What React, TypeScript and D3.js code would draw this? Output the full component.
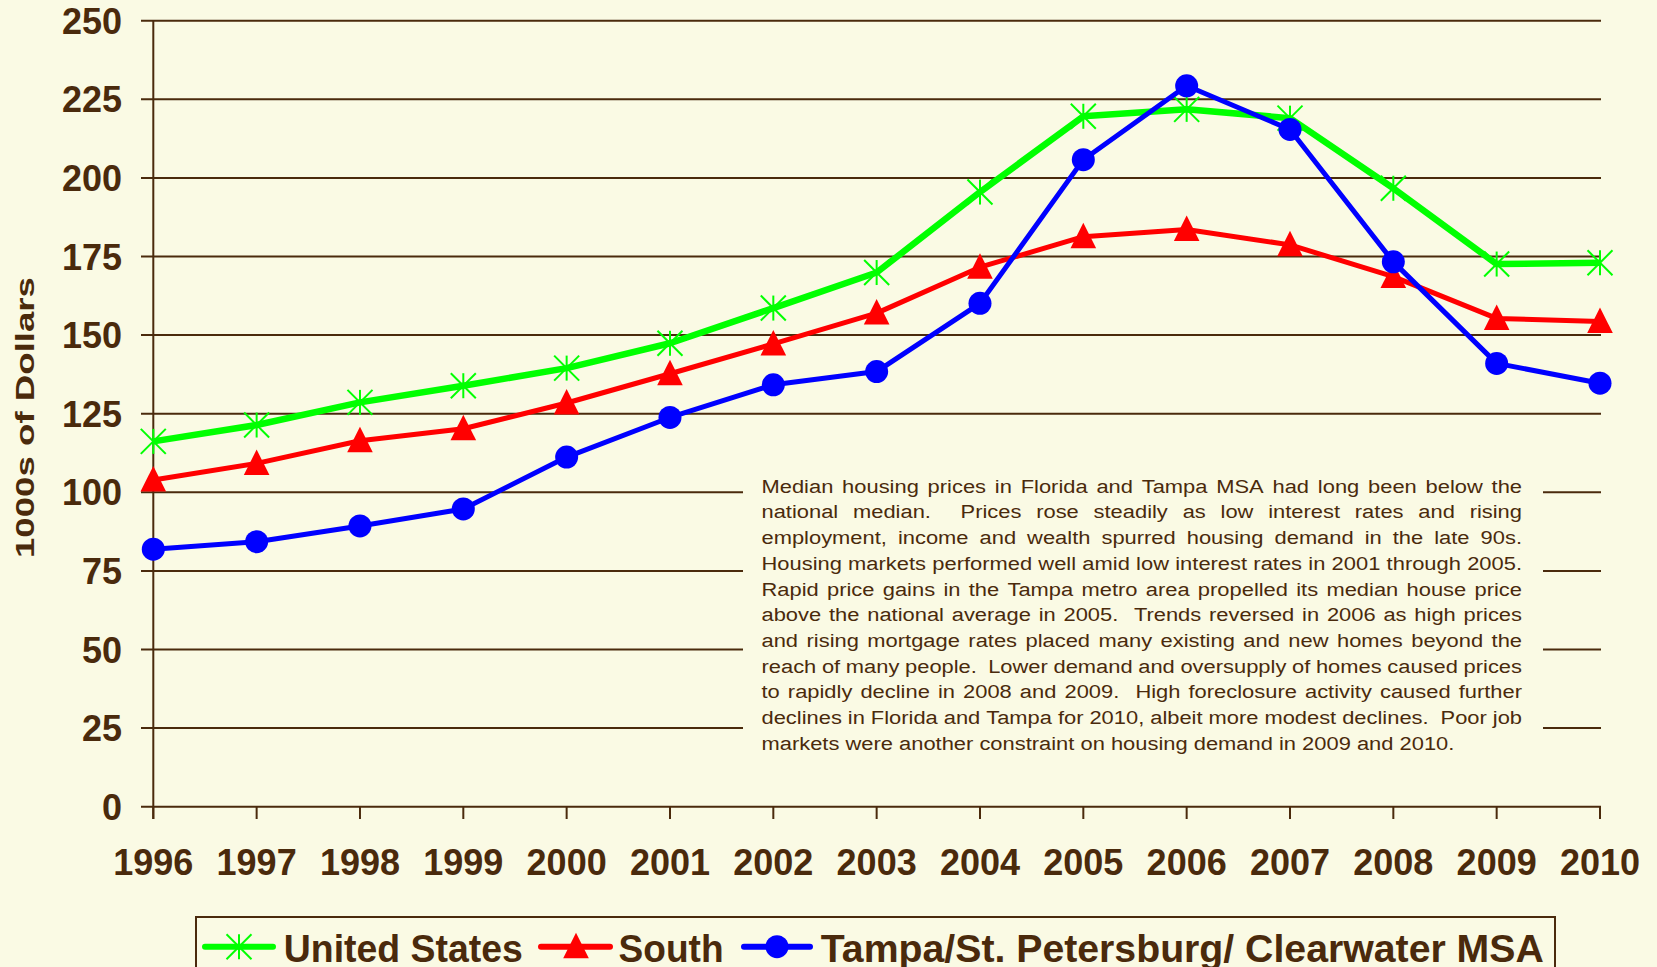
import React from "react";
import * as d3 from "d3";

const years = ["1996","1997","1998","1999","2000","2001","2002","2003","2004","2005","2006","2007","2008","2009","2010"];
const usValues = [116.2, 121.4, 128.6, 133.9, 139.5, 147.4, 158.6, 169.9, 195.5, 219.6, 221.8, 219.0, 196.7, 172.6, 173.0];
const southValues = [103.9, 109.2, 116.4, 120.2, 128.4, 137.7, 147.2, 157.0, 171.6, 181.3, 183.6, 178.7, 168.6, 155.3, 154.3];
const tampaValues = [81.9, 84.3, 89.3, 94.7, 111.2, 123.8, 134.2, 138.4, 160.1, 205.8, 229.3, 215.4, 173.3, 141.0, 134.7];
const yTicks = [0, 25, 50, 75, 100, 125, 150, 175, 200, 225, 250];
const seriesNames = ["United States", "South", "Tampa/St. Petersburg/ Clearwater MSA"];
const yTitle = "1000s of Dollars";
const noteLines = [
  "Median housing prices in Florida and Tampa MSA had long been below the",
  "national median.  Prices rose steadily as low interest rates and rising",
  "employment, income and wealth spurred housing demand in the late 90s.",
  "Housing markets performed well amid low interest rates in 2001 through 2005.",
  "Rapid price gains in the Tampa metro area propelled its median house price",
  "above the national average in 2005.  Trends reversed in 2006 as high prices",
  "and rising mortgage rates placed many existing and new homes beyond the",
  "reach of many people.  Lower demand and oversupply of homes caused prices",
  "to rapidly decline in 2008 and 2009.  High foreclosure activity caused further",
  "declines in Florida and Tampa for 2010, albeit more modest declines.  Poor job",
  "markets were another constraint on housing demand in 2009 and 2010.",
];

const BG = "#FAFAE4";
const BROWN = "#4A2A0C";
const FONT = '"Liberation Sans", Arial, sans-serif';

const W = 1657, H = 967;
const x = d3.scalePoint<string>().domain(years).range([153.3, 1600]);
const y = d3.scaleLinear().domain([0, 250]).range([806.7, 20.7]);

function Star({ cx, cy, color }: { cx: number; cy: number; color: string }) {
  const r = 12.5;
  return (
    <g stroke={color} strokeWidth={2} fill="none">
      <line x1={cx} y1={cy - r} x2={cx} y2={cy + r} />
      <line x1={cx - r} y1={cy - r} x2={cx + r} y2={cy + r} />
      <line x1={cx - r} y1={cy + r} x2={cx + r} y2={cy - r} />
    </g>
  );
}
function Tri({ cx, cy, color }: { cx: number; cy: number; color: string }) {
  const p = `M${cx},${cy - 14}L${cx + 12.8},${cy + 11.5}L${cx - 12.8},${cy + 11.5}Z`;
  return <path d={p} fill={color} />;
}
function Dot({ cx, cy, color }: { cx: number; cy: number; color: string }) {
  return <circle cx={cx} cy={cy} r={11.5} fill={color} />;
}

const series = [
  { name: seriesNames[0], values: usValues, color: "#00FF00", width: 6.5, Marker: Star },
  { name: seriesNames[1], values: southValues, color: "#FF0000", width: 5, Marker: Tri },
  { name: seriesNames[2], values: tampaValues, color: "#0000FF", width: 5, Marker: Dot },
];

let ctx: CanvasRenderingContext2D | null = null;
function measure(s: string, font: string) {
  if (!ctx) {
    const c = document.createElement("canvas");
    ctx = c.getContext("2d");
  }
  if (!ctx) return s.length * 9;
  ctx.font = font;
  return ctx.measureText(s).width;
}

const NOTE_X0 = 761.5, NOTE_X1 = 1522, NOTE_FS = 19;

function NoteText() {
  const font = `${NOTE_FS}px "Liberation Sans"`;
  const boxW = NOTE_X1 - NOTE_X0;
  const spaceW = measure(" ", font);
  // horizontal stretch so that the tightest line (line 4) fills the box with normal spaces
  const sx = (boxW - 2) / measure(noteLines[3], font);
  const innerW = boxW / sx;
  return (
    <g fontFamily={FONT} fontSize={NOTE_FS} fill={BROWN}>
      {noteLines.map((line, i) => {
        const by = 492.7 + i * 25.7;
        const last = i === noteLines.length - 1;
        const tokens = line.split(" ");
        const widths = tokens.map((t) => measure(t, font));
        const total = d3.sum(widths);
        const nSp = tokens.length - 1;
        const gap = last ? spaceW : Math.max(0.5, (innerW - total) / nSp);
        let cx = 0;
        const spans: React.ReactNode[] = [];
        tokens.forEach((t, j) => {
          if (t.length) spans.push(<tspan key={j} x={cx}>{t}</tspan>);
          cx += widths[j] + gap;
        });
        return (
          <g key={i} transform={`translate(${NOTE_X0},${by}) scale(${sx},1)`}>
            <text y={0}>{spans}</text>
          </g>
        );
      })}
    </g>
  );
}

export default function App() {
  const line = d3.line<number>().x((_, i) => x(years[i]) as number).y((d) => y(d));
  const legY = 946.7;
  const legend = [
    { x1: 205, x2: 273, mx: 239, tx: 283.8, tl: 239 },
    { x1: 541, x2: 610, mx: 576, tx: 618.6, tl: 105 },
    { x1: 744, x2: 810, mx: 777, tx: 820.8, tl: 723 },
  ];
  return (
    <svg width={W} height={H} style={{ position: "fixed", left: 0, top: 0, background: BG }}>
      <rect x={0} y={0} width={W} height={H} fill={BG} />
      <g stroke={BROWN} strokeWidth={2}>
        {yTicks.map((t) => (
          <line key={t} x1={141} x2={1601} y1={y(t)} y2={y(t)} />
        ))}
        <line x1={153.3} x2={153.3} y1={y(250)} y2={819} />
        {years.map((yr) => (
          <line key={yr} x1={x(yr)} x2={x(yr)} y1={y(0)} y2={819} />
        ))}
      </g>
      <rect x={743} y={470} width={800} height={290} fill={BG} />
      <NoteText />
      <g fontFamily={FONT} fontWeight="bold" fontSize={36} fill={BROWN}>
        {yTicks.map((t) => (
          <text key={t} x={122} y={y(t) + 13} textAnchor="end">{t}</text>
        ))}
        {years.map((yr) => (
          <text key={yr} x={x(yr)} y={875} textAnchor="middle">{yr}</text>
        ))}
      </g>
      <text
        transform="translate(33.5,417.5) rotate(-90)"
        textAnchor="middle"
        fontFamily={FONT}
        fontWeight="bold"
        fontSize={26}
        fill={BROWN}
        textLength={281}
        lengthAdjust="spacingAndGlyphs"
      >
        {yTitle}
      </text>
      {series.map((s) => (
        <g key={s.name}>
          <path d={line(s.values) || ""} fill="none" stroke={s.color} strokeWidth={s.width} strokeLinejoin="round" />
          {s.values.map((v, i) => (
            <s.Marker key={i} cx={x(years[i]) as number} cy={y(v)} color={s.color} />
          ))}
        </g>
      ))}
      <rect x={196} y={917} width={1359} height={100} fill="none" stroke={BROWN} strokeWidth={2} />
      {series.map((s, i) => {
        const L = legend[i];
        return (
          <g key={s.name}>
            <line x1={L.x1} x2={L.x2} y1={legY} y2={legY} stroke={s.color} strokeWidth={6} strokeLinecap="round" />
            <s.Marker cx={L.mx} cy={legY} color={s.color} />
            <text x={L.tx} y={962} fontFamily={FONT} fontWeight="bold" fontSize={39} fill={BROWN} textLength={L.tl} lengthAdjust="spacingAndGlyphs">
              {s.name}
            </text>
          </g>
        );
      })}
    </svg>
  );
}
